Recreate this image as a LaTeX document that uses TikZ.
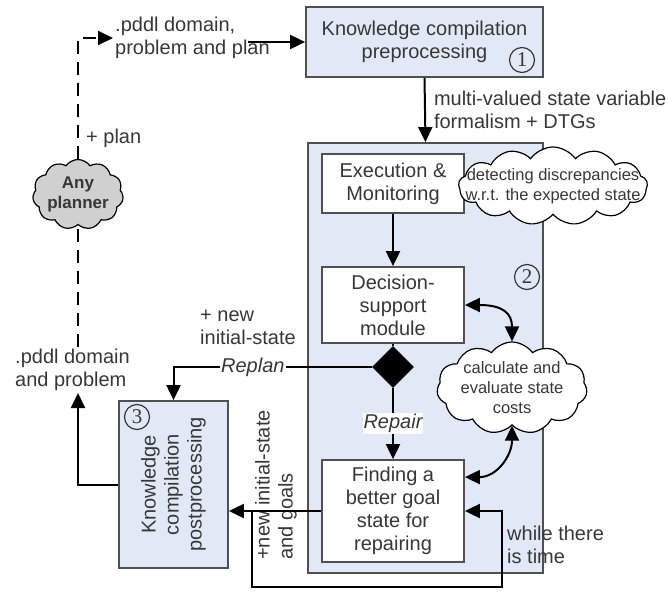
\documentclass[tikz,border=0pt]{standalone}
\usepackage{fontspec}
\setmainfont{Liberation Sans}
\newfontfamily\numserif{Liberation Serif}
\usepackage{xcolor}
\usetikzlibrary{arrows.meta,positioning,calc,shapes.geometric,shapes.symbols}

\definecolor{boxblue}{RGB}{226,233,246}
\definecolor{boxline}{RGB}{80,80,80}
\definecolor{txtgray}{RGB}{55,55,55}
\definecolor{cloudgray}{RGB}{208,208,208}
\newcommand{\mainsz}{\fontsize{20}{23}\selectfont}
\newcommand{\cloudsz}{\fontsize{16.5}{20}\selectfont}

\begin{document}
\begin{tikzpicture}[x=1pt, y=-1pt,
    box/.style={draw=boxline, line width=1.8pt, fill=white, minimum width=142pt,
                align=center, font=\mainsz, text=txtgray, inner sep=2pt},
    kcbox/.style={draw=boxline, line width=1.8pt, fill=boxblue, align=center,
                  font=\mainsz, text=txtgray},
    bubble/.style={cloud, cloud puffs=11, cloud puff arc=110, cloud ignores aspect,
                   draw=black, line width=1.2pt, fill=white, align=center,
                   inner sep=0pt, font=\cloudsz, text=txtgray},
    lbl/.style={font=\mainsz, text=txtgray, align=left, inner sep=2pt},
    tag/.style={font=\mainsz\itshape, text=txtgray, fill=white, inner sep=1pt},
    num/.style={circle, draw=txtgray, line width=1.2pt, minimum size=25pt,
                inner sep=0pt, font=\numserif\fontsize{21}{21}\selectfont, text=txtgray},
    flow/.style={line width=2pt, draw=black},
    gap/.style={dash pattern=on 13pt off 8pt},
    >={Triangle[length=15pt,width=14pt]}
  ]
  \useasboundingbox (0,0) rectangle (668,591);

  % preprocessing
  \node[kcbox, minimum width=237pt, minimum height=70pt] (pre) at (424.5, 42)
    {Knowledge compilation\\preprocessing};
  \node[num] (n1) at (522, 60) {1};

  % monitoring panel
  \node[kcbox, minimum width=235pt, minimum height=430pt] (panel) at (425.5, 358) {};
  \node[num] (n2) at (527, 277) {2};
  \node[box, minimum height=59pt] (exec) at (393, 183.5)
    {Execution \&\\Monitoring};
  \node[bubble, cloud puffs=13, minimum width=189pt, minimum height=78pt] (detect)
    at (553, 186) {};
  \node[font=\cloudsz, text=txtgray, align=center, inner sep=0pt] (detecttext)
    at (detect) {detecting discrepancies\\w.r.t. the expected state};
  \node[box, minimum height=76pt] (dec) at (393, 305)
    {Decision-\\support\\module};
  \node[diamond, fill=black, minimum size=42pt, inner sep=0pt] (dia) at (393, 367) {};
  \node[bubble, minimum width=138pt, minimum height=86pt] (costs) at (512, 388)
    {calculate and\\evaluate state\\costs};
  \node[box, minimum height=102pt] (find) at (393, 511)
    {Finding a\\better goal\\state for\\repairing};

  % postprocessing
  \node[kcbox, minimum width=109pt, minimum height=167pt] (post) at (173.5, 484.5) {};
  \node[kcbox, draw=none, fill=none, rotate=90] (posttext) at (post)
    {Knowledge\\compilation\\postprocessing};
  \node[num] (n3) at (137, 417) {3};

  % planner
  \node[bubble, fill=cloudgray, minimum width=84pt, minimum height=70pt,
        font=\fontsize{17}{20}\selectfont\bfseries] (planner) at (78, 194.5)
    {Any\\planner};

  % texts
  \node[lbl, anchor=west] (ptext) at (113, 38) {.pddl domain,\\problem and plan};
  \node[lbl, anchor=west] (plan) at (84, 138) {+ plan};
  \node[lbl, anchor=west] (pdtext) at (13, 370) {.pddl domain\\and problem};
  \node[lbl, anchor=west] (newinit) at (198, 327) {+ new\\initial-state};
  \node[lbl, rotate=90] (goals) at (276, 485) {+new initial-state\\and goals};
  \node[lbl, anchor=west] (while) at (505, 545) {while there\\is time};

  % arrows
  \draw[flow, gap, ->] (planner.north) |- (ptext.west);
  \draw[flow, gap] (planner.south |- pdtext.north) -- (planner.south);
  \draw[flow, ->] ([xshift=-24pt]ptext.east |- pre.west) -- (pre.west);
  \draw[flow, ->] (pre.south) -- (panel.north)
    node[midway, right=6pt, lbl] {multi-valued state variable\\formalism + DTGs};
  \draw[flow, ->] (exec) -- (dec);
  \draw[flow] (dec.south) -- (dia.north);
  \draw[flow, ->] (dia.south) -- (find.north) node[midway, tag] {Repair};
  \draw[flow, ->] (dia.west) -| (post.north) node[pos=0.3, tag] {Replan};
  \draw[flow, <->] (dec.east) .. controls +(38,0) and +(0,-28) .. (costs.north);
  \draw[flow, <->] (costs.south) .. controls +(0,30) and +(32,0)
    .. ($(find.north east)+(0,18)$);
  \draw[flow, ->] (find.west) -- (find.west -| post.east);
  \coordinate (split) at (252, 511);
  \coordinate (loopend) at (502, 587);
  \draw[flow, ->] (split) |- (loopend) |- (find.east);
  \draw[flow, ->] (post.west) -| (planner.south |- pdtext.south);
\end{tikzpicture}
\end{document}
